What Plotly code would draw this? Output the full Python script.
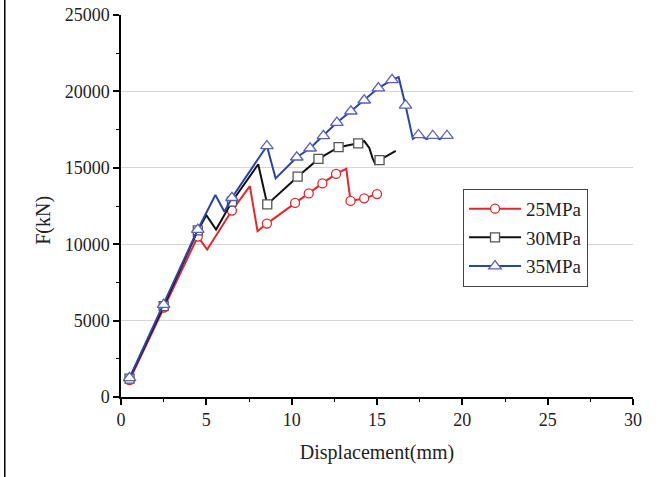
import plotly.graph_objects as go

# ---- data ----
series_names = ["25MPa", "30MPa", "35MPa"]

red_x = [0.5, 2.5, 4.5, 5.05, 6.5, 7.55, 8.0, 8.55, 10.2, 11.0, 11.8, 12.6, 13.2, 13.45, 14.25, 15.0]
red_y = [1100, 5850, 10500, 9650, 12200, 13800, 10850, 11350, 12700, 13320, 13980, 14600, 14930, 12830, 13000, 13280]
red_marked = [1, 1, 1, 0, 1, 0, 0, 1, 1, 1, 1, 1, 0, 1, 1, 1]

black_x = [0.5, 2.5, 4.5, 5.0, 5.57, 6.5, 8.04, 8.57, 10.35, 11.57, 12.75, 13.9, 14.25, 14.55, 14.75, 14.9, 15.15, 16.1]
black_y = [1200, 5950, 10900, 11900, 10960, 12780, 15230, 12600, 14420, 15580, 16350, 16600, 16750, 16300, 15600, 15250, 15500, 16100]
black_marked = [1, 1, 1, 0, 0, 1, 0, 1, 1, 1, 1, 1, 0, 0, 0, 0, 1, 0]

blue_x = [0.5, 2.5, 4.5, 5.53, 6.06, 6.5, 8.55, 9.06, 10.3, 11.08, 11.86, 12.65, 13.47, 14.25, 15.08, 15.88, 16.27, 16.67, 17.1, 17.43, 17.92, 18.27, 18.67, 19.1]
blue_y = [1250, 6050, 10960, 13220, 12120, 13040, 16430, 14310, 15690, 16280, 17090, 17960, 18700, 19420, 20220, 20750, 20930, 19090, 16890, 17150, 16870, 17100, 16870, 17100]
blue_marked = [1, 1, 1, 0, 0, 1, 1, 0, 1, 1, 1, 1, 1, 1, 1, 1, 0, 1, 0, 1, 0, 1, 0, 1]

x_ticks = [0, 5, 10, 15, 20, 25, 30]
y_ticks = [0, 5000, 10000, 15000, 20000, 25000]
y_tick_labels = ["0", "5000", "10000", "15000", "20000", "25000"]

# ---- styles ----
styles = [
    dict(line="#e8262b", edge="#e8262b", symbol="circle", size=9),
    dict(line="#111111", edge="#555555", symbol="square", size=9),
    dict(line="#2a44a8", edge="#5a5fc4", symbol="triangle-up", size=11),
]
FONT = "Liberation Serif"

fig = go.Figure()
all_series = [(red_x, red_y, red_marked), (black_x, black_y, black_marked), (blue_x, blue_y, blue_marked)]
for name, (xs, ys, mk), st in zip(series_names, all_series, styles):
    fig.add_trace(go.Scatter(x=xs, y=ys, mode="lines", line=dict(color=st["line"], width=2),
                             showlegend=False, hoverinfo="skip"))
    mx = [x for x, m in zip(xs, mk) if m]
    my = [y for y, m in zip(ys, mk) if m]
    fig.add_trace(go.Scatter(x=mx, y=my, mode="markers",
                             marker=dict(symbol=st["symbol"], size=st["size"], color="white",
                                         line=dict(color=st["edge"], width=1.3)),
                             showlegend=False))
for name, st in zip(series_names, styles):
    fig.add_trace(go.Scatter(x=[None], y=[None], mode="lines+markers", name=name, legendgroup=name,
                             line=dict(color=st["line"], width=2),
                             marker=dict(symbol=st["symbol"], size=st["size"], color="white",
                                         line=dict(color=st["edge"], width=1.3))))

fig.update_layout(
    width=660, height=477,
    margin=dict(l=121, r=27, t=15, b=80),
    paper_bgcolor="white", plot_bgcolor="white",
    font=dict(family=FONT, size=18, color="#222"),
    legend=dict(x=0.668, y=0.545, xanchor="left", yanchor="top",
                bordercolor="#444", borderwidth=1, bgcolor="white",
                font=dict(family=FONT, size=19, color="#222"),
                traceorder="grouped", tracegroupgap=1, itemwidth=52),
    shapes=[dict(type="line", xref="paper", yref="paper", x0=-0.227, x1=-0.227,
                 y0=-0.21, y1=1.04, line=dict(color="black", width=1.5))],
    annotations=[dict(text="F(kN)", xref="paper", yref="paper", x=-0.153, y=0.463,
                      textangle=-90, showarrow=False, font=dict(family=FONT, size=20, color="#222"),
                      xanchor="center", yanchor="middle")],
)
fig.update_xaxes(range=[0, 30], tickvals=x_ticks, ticks="outside", ticklen=6, tickwidth=1.5,
                 tickcolor="black", showline=True, linecolor="black", linewidth=1.5,
                 showgrid=False, zeroline=False, automargin=False,
                 minor=dict(dtick=2.5, ticks="outside", ticklen=3, tickwidth=1.2, tickcolor="black"),
                 title=dict(text="Displacement(mm)", font=dict(size=20), standoff=16))
fig.update_yaxes(range=[0, 25000], tickvals=y_ticks, ticktext=y_tick_labels, ticks="outside",
                 ticklen=6, tickwidth=1.5,
                 tickcolor="black", showline=True, linecolor="black", linewidth=1.5,
                 showgrid=True, gridcolor="#d6d6d6", gridwidth=1, zeroline=False, automargin=False,
                 minor=dict(dtick=2500, ticks="outside", ticklen=3, tickwidth=1.2, tickcolor="black", showgrid=False))

fig.write_html("out.html")
